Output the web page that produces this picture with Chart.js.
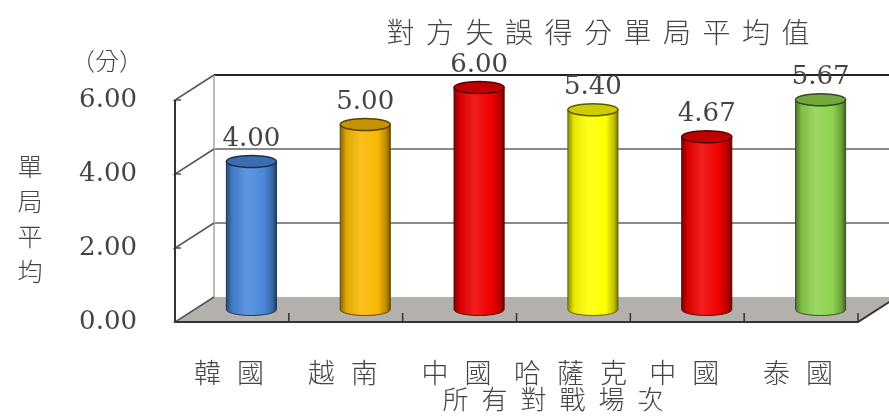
<!DOCTYPE html>
<html>
<head>
<meta charset="utf-8">
<script src="https://cdn.jsdelivr.net/npm/chart.js@4"></script>
<style>
  html, body { margin: 0; padding: 0; background: #fff; }
  #wrap { width: 889px; height: 416px; }
</style>
</head>
<body>
<div id="wrap"><canvas id="chart" width="889" height="416"></canvas></div>
<script>
// Average points per set scored from opponent errors
const categories = ['韓國', '越南', '中國', '哈薩克', '中國', '泰國'];
const values = [4.00, 5.00, 6.00, 5.40, 4.67, 5.67];
const barColors = ['#4a88dc', '#f8b800', '#f00000', '#ffff00', '#f00000', '#8ed34e'];
const yTicks = [0, 2, 4, 6];

const titleText = '對方失誤得分單局平均值';
const yTitle = '單局平均';
const yUnit = '（分）';
const xTitle = '所有對戰場次';

// depth offset between front plane and back wall
const DX = 39, DY = -25;

const serif = '"DejaVu Serif", "Liberation Serif", "Noto Sans CJK TC", serif';
const cjk = '"Noto Sans CJK TC", "Noto Sans CJK SC", sans-serif';
const textColor = '#444';

function shade(hex, f) {
    const n = parseInt(hex.slice(1), 16);
    let r = (n >> 16) & 255, g = (n >> 8) & 255, b = n & 255;
    const mix = c => f < 0 ? Math.round(c * (1 + f)) : Math.round(c + (255 - c) * f);
    return `rgb(${mix(r)},${mix(g)},${mix(b)})`;
}

function spacedText(ctx, text, cx, cy, step) {
    const chars = [...text];
    const start = cx - (chars.length - 1) * step / 2;
    chars.forEach((ch, i) => ctx.fillText(ch, start + i * step, cy));
}

const frame3d = {
    id: 'frame3d',
    beforeDatasetsDraw(chart) {
        const ctx = chart.ctx;
        const y = chart.scales.y;
        const L = chart.chartArea.left, R = chart.chartArea.right;
        const y0 = y.getPixelForValue(0);
        ctx.save();

        // floor
        ctx.fillStyle = '#b4b1ad';
        ctx.beginPath();
        ctx.moveTo(L, y0);
        ctx.lineTo(R, y0);
        ctx.lineTo(R + DX, y0 + DY);
        ctx.lineTo(L + DX, y0 + DY);
        ctx.closePath();
        ctx.fill();

        // back wall gridlines
        yTicks.forEach(v => {
            if (v === 0) return;
            const py = y.getPixelForValue(v) + DY;
            ctx.strokeStyle = v === 6 ? '#222' : '#8a8a8a';
            ctx.lineWidth = 2;
            ctx.beginPath();
            ctx.moveTo(L + DX, py);
            ctx.lineTo(chart.width, py);
            ctx.stroke();
        });

        // back wall left edge
        ctx.strokeStyle = '#bdbdbd';
        ctx.lineWidth = 2;
        ctx.beginPath();
        ctx.moveTo(L + DX, y.getPixelForValue(6) + DY);
        ctx.lineTo(L + DX, y0 + DY);
        ctx.stroke();

        // side wall gridlines
        ctx.strokeStyle = '#555';
        ctx.lineWidth = 1.5;
        yTicks.forEach(v => {
            const py = y.getPixelForValue(v);
            ctx.beginPath();
            ctx.moveTo(L + 6, py);
            ctx.lineTo(L, py);
            ctx.lineTo(L + DX, py + DY);
            ctx.stroke();
        });

        // front left axis
        ctx.strokeStyle = '#333';
        ctx.lineWidth = 2;
        ctx.beginPath();
        ctx.moveTo(L, y.getPixelForValue(6));
        ctx.lineTo(L, y0);
        ctx.stroke();
        ctx.restore();
    },
    beforeDatasetDraw() {
        return false;
    },
    afterDatasetsDraw(chart) {
        const ctx = chart.ctx;
        const meta = chart.getDatasetMeta(0);
        ctx.save();
        meta.data.forEach((bar, i) => {
            const col = barColors[i];
            const w = bar.width;
            const cx = bar.x + DX / 2;
            const top = bar.y + DY / 2;
            const base = bar.base + DY / 2;
            const left = cx - w / 2, right = cx + w / 2;
            const ry = 6;

            const grad = ctx.createLinearGradient(left, 0, right, 0);
            grad.addColorStop(0, shade(col, -0.45));
            grad.addColorStop(0.12, shade(col, -0.1));
            grad.addColorStop(0.4, shade(col, 0.12));
            grad.addColorStop(0.75, col);
            grad.addColorStop(0.92, shade(col, -0.25));
            grad.addColorStop(1, shade(col, -0.55));

            // body with rounded bottom
            ctx.fillStyle = grad;
            ctx.beginPath();
            ctx.moveTo(left, top);
            ctx.lineTo(left, base);
            ctx.ellipse(cx, base, w / 2, ry, 0, Math.PI, 0, true);
            ctx.lineTo(right, top);
            ctx.closePath();
            ctx.fill();
            ctx.strokeStyle = shade(col, -0.6);
            ctx.lineWidth = 1;
            ctx.stroke();

            // top cap
            ctx.fillStyle = shade(col, -0.2);
            ctx.beginPath();
            ctx.ellipse(cx, top, w / 2, ry, 0, 0, Math.PI * 2);
            ctx.fill();
            ctx.strokeStyle = shade(col, -0.65);
            ctx.lineWidth = 1.5;
            ctx.stroke();

            // value label
            ctx.fillStyle = textColor;
            ctx.font = '26px ' + serif;
            ctx.textAlign = 'center';
            ctx.textBaseline = 'middle';
            ctx.fillText(values[i].toFixed(2), cx, top - 22);
        });
        ctx.restore();
    },
    afterDraw(chart) {
        const ctx = chart.ctx;
        const x = chart.scales.x, y = chart.scales.y;
        const L = chart.chartArea.left, R = chart.chartArea.right;
        const y0 = y.getPixelForValue(0);
        ctx.save();

        // front floor edge and category ticks
        ctx.strokeStyle = '#333';
        ctx.lineWidth = 2;
        ctx.beginPath();
        ctx.moveTo(L, y0);
        ctx.lineTo(R, y0);
        ctx.lineTo(R + DX, y0 + DY);
        ctx.stroke();
        const step = (R - L) / categories.length;
        ctx.lineWidth = 1.5;
        for (let i = 1; i <= categories.length; i++) {
            const px = L + i * step;
            ctx.beginPath();
            ctx.moveTo(px, y0);
            ctx.lineTo(px, y0 - 9);
            ctx.stroke();
        }

        ctx.fillStyle = textColor;
        ctx.textBaseline = 'middle';

        // y tick labels
        ctx.font = '26px ' + serif;
        ctx.textAlign = 'right';
        yTicks.forEach(v => {
            ctx.fillText(v.toFixed(2), 137, y.getPixelForValue(v));
        });

        ctx.textAlign = 'center';
        // category labels
        ctx.font = '300 27px ' + cjk;
        categories.forEach((c, i) => {
            spacedText(ctx, c, x.getPixelForValue(i) - 3, 373, 43);
        });

        // titles
        ctx.font = '300 28px ' + cjk;
        spacedText(ctx, titleText, 598, 32, 39.5);
        ctx.font = '300 26px ' + cjk;
        spacedText(ctx, xTitle, 553, 399, 39);
        ctx.font = '300 24px ' + cjk;
        spacedText(ctx, yUnit, 107, 61, 24);
        ctx.font = '300 25px ' + cjk;
        [...yTitle].forEach((ch, i) => ctx.fillText(ch, 30, 166 + i * 35));
        ctx.restore();
    }
};

new Chart(document.getElementById('chart'), {
    type: 'bar',
    data: {
        labels: categories,
        datasets: [{
            data: values,
            backgroundColor: barColors,
            barPercentage: 0.44,
            categoryPercentage: 1
        }]
    },
    options: {
        responsive: false,
        animation: false,
        layout: { padding: { left: 175, right: 31, top: 100, bottom: 94 } },
        plugins: {
            legend: { display: false },
            tooltip: { enabled: false },
            title: { display: false }
        },
        scales: {
            x: { display: false },
            y: { display: false, min: 0, max: 6 }
        }
    },
    plugins: [frame3d]
});
</script>
</body>
</html>
